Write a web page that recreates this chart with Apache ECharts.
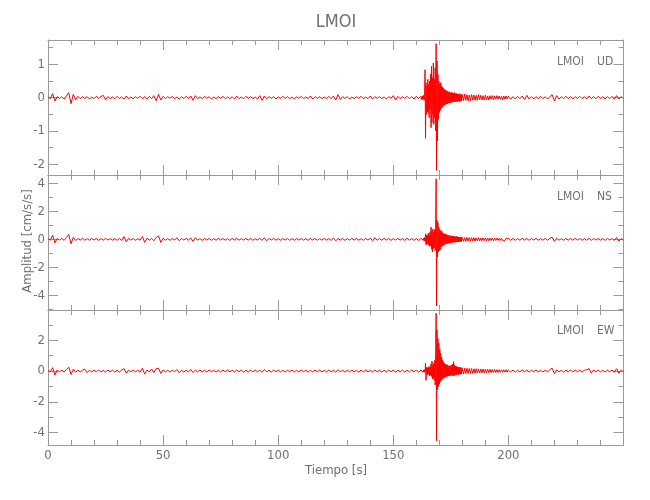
<!DOCTYPE html>
<html>
<head>
<meta charset="utf-8">
<script src="https://cdn.jsdelivr.net/npm/echarts@6/dist/echarts.min.js"></script>
<style>html,body{margin:0;padding:0;background:#fff}#c{width:650px;height:500px}</style>
</head>
<body>
<div id="c"></div>
<script>
// ---- sampling of the record: 4 segments (start time, sample step in s) ----
const segStart = [0, 162, 180, 200];
const segStep  = [1, 0.2, 0.5, 1];

// ---- x axis ----
const timeMin = 0, timeMax = 250, timeTickStep = 50;

// ---- component names ----
const station = 'LMOI';
const components = ['UD', 'NS', 'EW'];

// ---- y axis ranges and tick labels ----
const udRange = [-2.32, 1.73], udTicks = [-2, -1, 0, 1], udMinor = [-1.5, -0.5, 0.5, 1.5];
const nsRange = [-5.05, 4.6],  nsTicks = [-4, -2, 0, 2, 4], nsMinor = [-5, -3, -1, 1, 3];
const ewRange = [-4.8, 3.96],  ewTicks = [-4, -2, 0, 2], ewMinor = [-3, -1, 1, 3];

// ---- UD trace (cm/s/s) ----
const udQuiet = [
 0.02,-0.03,0.12,-0.10,0.03,-0.02,0.03,-0.04,0.05,0.15,
 -0.18,0.10,-0.06,0.04,-0.03,0.03,-0.02,0.03,-0.04,0.02,
 -0.03,0.04,-0.02,0.03,0.07,-0.06,0.03,-0.03,0.02,-0.03,
 0.04,-0.03,0.02,-0.04,0.05,-0.03,0.02,-0.03,0.03,-0.02,
 0.04,-0.03,0.03,-0.05,0.04,-0.03,0.06,-0.09,0.10,-0.07,
 0.04,-0.03,0.03,-0.02,0.04,-0.03,0.02,-0.04,0.03,-0.03,
 0.04,-0.03,0.05,-0.08,0.06,-0.03,0.02,-0.03,0.04,-0.02,
 0.03,-0.04,0.02,-0.03,0.03,-0.02,0.04,-0.03,0.02,-0.03,
 0.03,-0.04,0.05,-0.03,0.02,-0.03,0.04,-0.02,0.03,-0.03,
 0.02,-0.04,0.06,-0.08,0.05,-0.03,0.03,-0.02,0.03,-0.04,
 0.02,-0.03,0.04,-0.02,0.03,-0.03,0.02,-0.04,0.03,-0.02,
 0.04,-0.03,0.02,-0.03,0.05,-0.04,0.03,-0.02,0.03,-0.03,
 0.02,-0.03,0.04,-0.03,0.05,-0.07,0.09,-0.06,0.03,-0.02,
 0.03,-0.04,0.02,-0.03,0.03,-0.02,0.04,-0.03,0.02,-0.03,
 0.05,-0.04,0.03,-0.02,0.03,-0.03,0.02,-0.04,0.03,-0.02,
 0.06,-0.07,0.04,-0.03,0.03,-0.02,0.04,-0.03,0.03,-0.04,
 0.04,-0.03
];
const udEvent = [
 0.04,-0.05,0.03,-0.06,0.05,-0.04,0.07,-0.08,0.10,0.84,
 -1.22,0.45,-0.50,0.35,-0.42,0.55,-0.45,0.40,-0.60,0.50,
 -0.35,0.70,-0.90,0.94,-0.75,0.60,-0.50,1.04,-0.80,0.55,
 -0.60,0.90,-1.00,1.62,-2.18,1.10,-1.30,0.70,-0.65,0.50,
 -0.45,0.42,-0.38,0.45,-0.32,0.36,-0.30,0.32,-0.26,0.28,
 -0.24,0.25,-0.22,0.23,-0.20,0.21,-0.18,0.20,-0.19,0.17,
 -0.16,0.18,-0.15,0.17,-0.16,0.14,-0.15,0.16,-0.13,0.14,
 -0.14,0.13,-0.12,0.15,-0.13,0.12,-0.11,0.13,-0.12,0.11,
 -0.12,0.11,-0.10,0.12,-0.11,0.10,-0.11,0.09,-0.10,0.11
];
const udCoda = [
 0.10,-0.09,0.11,-0.08,0.09,-0.10,0.08,-0.09,0.09,-0.07,
 0.08,-0.08,0.07,-0.08,0.09,-0.06,0.07,-0.07,0.06,-0.07,
 0.07,-0.06,0.05,-0.07,0.06,-0.05,0.06,-0.06,0.05,-0.05,
 0.06,-0.04,0.05,-0.05,0.04,-0.06,0.05,-0.04,0.05,-0.04
];
const udTail = [
 0.04,-0.05,0.03,-0.04,0.04,-0.03,0.05,-0.06,0.07,-0.04,
 0.03,-0.04,0.03,-0.03,0.04,-0.03,0.03,-0.04,0.03,0.09,
 -0.10,0.06,-0.04,0.03,-0.03,0.04,-0.03,0.03,-0.04,0.03,
 -0.03,0.04,-0.03,0.03,-0.04,0.05,-0.03,0.03,-0.03,0.04,
 -0.03,0.03,-0.04,0.03,-0.03,0.04,-0.05,0.06,-0.04,0.03,
 -0.02
];

// ---- NS trace ----
const nsQuiet = [
 0.05,-0.06,0.30,-0.25,0.06,-0.05,0.06,-0.07,0.12,0.35,
 -0.32,0.15,-0.08,0.06,-0.05,0.07,-0.06,0.05,-0.07,0.06,
 -0.05,0.06,-0.07,0.05,-0.06,0.07,-0.05,0.06,-0.06,0.05,
 -0.07,0.06,-0.08,0.20,-0.18,0.07,-0.05,0.06,-0.07,0.05,
 -0.06,0.20,-0.22,0.08,-0.06,0.07,-0.10,0.12,0.25,-0.22,
 0.08,-0.06,0.05,-0.07,0.06,-0.05,0.12,-0.10,0.06,-0.05,
 0.07,-0.06,0.10,-0.15,0.12,-0.06,0.05,-0.07,0.06,-0.05,
 0.06,-0.07,0.05,-0.06,0.07,-0.05,0.06,-0.06,0.05,-0.07,
 0.06,-0.05,0.07,-0.06,0.05,-0.06,0.07,-0.05,0.06,-0.07,
 0.05,-0.06,0.07,-0.08,0.12,-0.10,0.06,-0.05,0.07,-0.06,
 0.05,-0.07,0.06,-0.05,0.06,-0.07,0.05,-0.06,0.07,-0.05,
 0.06,-0.06,0.05,-0.07,0.06,-0.05,0.07,-0.06,0.05,-0.06,
 0.07,-0.05,0.06,-0.07,0.09,-0.10,0.06,-0.05,0.06,-0.07,
 0.05,-0.06,0.07,-0.05,0.06,-0.06,0.05,-0.07,0.06,-0.05,
 0.08,-0.10,0.12,-0.07,0.05,-0.06,0.07,-0.05,0.06,-0.07,
 0.05,-0.06,0.07,-0.05,0.06,-0.07,0.08,-0.06,0.05,-0.07,
 0.06,-0.08
];
const nsEvent = [
 0.06,-0.07,0.05,-0.08,0.07,-0.06,0.09,-0.10,0.12,-0.15,
 0.40,-0.38,0.30,-0.35,0.28,-0.30,0.45,-0.40,0.35,-0.50,
 0.55,-0.45,0.88,-0.70,0.60,-0.90,0.75,-0.65,0.50,-0.60,
 0.70,-0.80,1.10,4.33,-4.76,1.36,-1.26,1.20,-0.90,0.85,
 -0.80,0.70,-0.75,0.60,-0.55,0.62,-0.50,0.48,-0.45,0.42,
 -0.40,0.38,-0.36,0.40,-0.33,0.35,-0.30,0.32,-0.30,0.28,
 -0.27,0.30,-0.26,0.25,-0.28,0.24,-0.23,0.26,-0.22,0.23,
 -0.21,0.24,-0.22,0.20,-0.21,0.19,-0.20,0.21,-0.18,0.19,
 -0.18,0.17,-0.19,0.16,-0.17,0.18,-0.15,0.16,-0.16,0.15
];
const nsCoda = [
 0.15,-0.14,0.13,-0.15,0.14,-0.12,0.13,-0.13,0.12,-0.11,
 0.12,-0.12,0.11,-0.10,0.12,-0.11,0.10,-0.10,0.11,-0.09,
 0.10,-0.10,0.09,-0.10,0.09,-0.08,0.09,-0.09,0.08,-0.08,
 0.09,-0.08,0.07,-0.08,0.08,-0.07,0.07,-0.08,0.07,-0.06
];
const nsTail = [
 0.07,-0.06,0.06,-0.07,0.05,-0.06,0.07,-0.05,0.06,-0.07,
 0.06,-0.05,0.07,-0.06,0.05,-0.06,0.06,-0.07,0.08,0.16,
 -0.15,0.08,-0.06,0.05,-0.07,0.06,-0.05,0.06,-0.06,0.07,
 -0.05,0.06,-0.07,0.05,-0.06,0.08,-0.07,0.06,-0.05,0.06,
 -0.06,0.05,-0.07,0.06,-0.05,0.06,-0.08,0.14,-0.12,0.06,
 -0.05
];

// ---- EW trace ----
const ewQuiet = [
 0.05,-0.06,0.22,-0.26,0.07,-0.05,0.06,-0.07,0.10,0.25,
 -0.22,0.12,-0.07,0.05,-0.06,0.06,0.12,-0.10,0.05,-0.06,
 0.06,-0.05,0.07,-0.06,0.05,-0.07,0.06,-0.05,0.06,-0.06,
 0.05,-0.07,0.06,0.15,-0.14,0.06,-0.05,0.07,-0.06,0.05,
 -0.07,0.18,-0.20,0.06,-0.05,0.12,-0.10,0.15,0.18,-0.15,
 0.07,-0.06,0.05,-0.07,0.06,-0.05,0.10,-0.12,0.06,-0.07,
 0.05,-0.06,0.11,-0.10,0.06,-0.05,0.07,-0.06,0.05,-0.06,
 0.07,-0.05,0.06,-0.07,0.05,-0.06,0.06,-0.05,0.07,-0.06,
 0.05,-0.06,0.07,-0.05,0.06,-0.07,0.05,-0.06,0.06,-0.05,
 0.07,-0.06,0.05,-0.09,0.10,-0.06,0.05,-0.07,0.06,-0.05,
 0.06,-0.06,0.05,-0.07,0.06,-0.05,0.07,-0.06,0.05,-0.06,
 0.07,-0.05,0.06,-0.07,0.05,-0.06,0.06,-0.05,0.07,-0.06,
 0.05,-0.06,0.07,-0.05,0.06,-0.08,0.09,-0.06,0.05,-0.07,
 0.06,-0.05,0.06,-0.06,0.05,-0.07,0.06,-0.05,0.07,-0.06,
 0.05,-0.06,0.07,-0.05,0.06,-0.07,0.05,-0.06,0.06,-0.05,
 0.07,-0.08,0.06,-0.05,0.06,-0.07,0.05,-0.06,0.07,-0.05,
 0.06,-0.07
];
const ewEvent = [
 0.06,-0.05,0.07,-0.06,0.05,-0.08,0.07,-0.06,0.09,-0.10,
 0.50,-0.60,0.25,-0.22,0.20,-0.25,0.28,-0.20,0.24,-0.30,
 0.30,-0.28,0.45,-0.35,0.65,-0.50,0.40,-0.45,0.50,-0.60,
 0.70,-0.90,1.20,3.75,-4.52,2.66,-1.20,2.10,-1.00,1.80,
 -0.85,1.40,-0.70,1.15,-0.60,0.90,-0.55,0.70,-0.50,0.60,
 -0.45,0.50,-0.42,0.45,-0.38,0.40,-0.36,0.42,-0.33,0.35,
 -0.32,0.34,-0.30,0.33,-0.28,0.36,-0.30,0.40,-0.28,0.45,
 -0.30,0.60,-0.32,0.40,-0.27,0.32,-0.25,0.30,-0.24,0.28,
 -0.22,0.26,-0.23,0.25,-0.21,0.24,-0.20,0.22,-0.19,0.21
];
const ewCoda = [
 0.20,-0.18,0.19,-0.17,0.18,-0.16,0.17,-0.15,0.16,-0.15,
 0.15,-0.14,0.15,-0.13,0.14,-0.13,0.13,-0.12,0.13,-0.11,
 0.12,-0.11,0.11,-0.10,0.11,-0.10,0.10,-0.09,0.10,-0.09,
 0.09,-0.09,0.09,-0.08,0.08,-0.08,0.08,-0.07,0.08,-0.07
];
const ewTail = [
 0.07,-0.06,0.06,-0.07,0.05,-0.06,0.07,-0.05,0.06,-0.07,
 0.06,-0.05,0.07,-0.06,0.05,-0.06,0.06,-0.07,0.09,0.18,
 -0.17,0.08,-0.06,0.05,-0.07,0.06,-0.05,0.06,-0.06,0.07,
 -0.05,0.06,-0.07,0.05,0.08,0.15,-0.14,0.07,-0.05,0.06,
 -0.06,0.05,-0.07,0.06,-0.05,0.06,-0.08,0.15,-0.14,0.06,
 -0.05
];

// ---------------------------------------------------------------
function buildTrace(segs) {
  const pts = [];
  segs.forEach((vals, k) => {
    vals.forEach((v, i) => pts.push([+(segStart[k] + i * segStep[k]).toFixed(3), v]));
  });
  return pts;
}
const traces = [
  buildTrace([udQuiet, udEvent, udCoda, udTail]),
  buildTrace([nsQuiet, nsEvent, nsCoda, nsTail]),
  buildTrace([ewQuiet, ewEvent, ewCoda, ewTail])
];
const ranges = [udRange, nsRange, ewRange];
const majors = [udTicks, nsTicks, ewTicks];
const minors = [udMinor, nsMinor, ewMinor];

const FONT = "'Liberation Sans Narrow','DejaVu Sans Condensed','Liberation Sans',sans-serif";
const AXIS = '#9a9a9a';
const TEXT = '#707070';
const RED = '#ff0000';

const gridTops = [40, 175, 310];
const grid = gridTops.map(t => ({ left: 48, right: 26.5, top: t, height: 135 }));

const xAxis = [], yAxis = [], series = [];
for (let g = 0; g < 3; g++) {
  ['bottom', 'top'].forEach(pos => {
    xAxis.push({
      type: 'value', gridIndex: g, position: pos,
      min: timeMin, max: timeMax, interval: timeTickStep,
      axisLine: { onZero: false, lineStyle: { color: AXIS, width: 1 } },
      axisTick: { inside: true, length: 10, lineStyle: { color: AXIS } },
      minorTick: { show: true, splitNumber: 5, length: 5, lineStyle: { color: AXIS } },
      splitLine: { show: false },
      axisLabel: {
        show: g === 2 && pos === 'bottom', showMaxLabel: false,
        color: TEXT, fontFamily: FONT, fontSize: 13, margin: 4
      }
    });
  });
  ['left', 'right'].forEach(pos => {
    [true, false].forEach(isMajor => {
      yAxis.push({
        type: 'value', gridIndex: g, position: pos,
        min: ranges[g][0], max: ranges[g][1],
        axisLine: { show: isMajor, onZero: false, lineStyle: { color: AXIS, width: 1 } },
        axisTick: {
          show: true, inside: true, length: isMajor ? 10 : 5,
          customValues: isMajor ? majors[g] : minors[g],
          lineStyle: { color: AXIS }
        },
        splitLine: { show: false },
        axisLabel: {
          show: pos === 'left' && isMajor,
          customValues: majors[g],
          color: TEXT, fontFamily: FONT, fontSize: 13, margin: 3
        }
      });
    });
  });
  series.push({
    type: 'line', xAxisIndex: g * 2, yAxisIndex: g * 4,
    data: traces[g], showSymbol: false, symbol: 'none',
    lineStyle: { color: RED, width: 1 }, silent: true, clip: true
  });
}

const labelY = [62, 197, 331];
const graphic = [
  { type: 'text', x: 336, y: 22, style: { text: station, font: '18px ' + FONT, fill: TEXT, textAlign: 'center', textVerticalAlign: 'middle' } },
  { type: 'text', x: 336, y: 471, style: { text: 'Tiempo [s]', font: '13px ' + FONT, fill: TEXT, textAlign: 'center', textVerticalAlign: 'middle' } },
  { type: 'text', x: 28, y: 241, rotation: Math.PI / 2, style: { text: 'Amplitud [cm/s/s]', font: '13px ' + FONT, fill: TEXT, textAlign: 'center', textVerticalAlign: 'middle' } }
];
components.forEach((c, g) => {
  graphic.push({ type: 'text', x: 584, y: labelY[g], style: { text: station, font: '12px ' + FONT, fill: TEXT, textAlign: 'right', textVerticalAlign: 'middle' } });
  graphic.push({ type: 'text', x: 597, y: labelY[g], style: { text: c, font: '12px ' + FONT, fill: TEXT, textAlign: 'left', textVerticalAlign: 'middle' } });
});

const chart = echarts.init(document.getElementById('c'), null, { renderer: 'canvas' });
chart.setOption({
  animation: false,
  backgroundColor: '#ffffff',
  grid, xAxis, yAxis, series, graphic
});
</script>
</body>
</html>
